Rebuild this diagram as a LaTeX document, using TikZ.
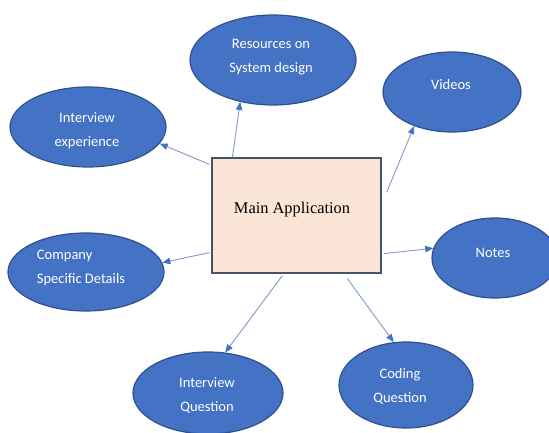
\documentclass[tikz,border=0pt]{standalone}
\usepackage{fontspec}
\setmainfont{Liberation Serif}
\newfontfamily\calib{Carlito}
\usetikzlibrary{shapes.geometric,arrows.meta,calc}
\definecolor{bubfill}{HTML}{4472C4}
\definecolor{bubedge}{HTML}{2F528F}
\definecolor{boxfill}{HTML}{FBE5D6}
\definecolor{boxedge}{HTML}{44546A}
\definecolor{linecol}{HTML}{7F9AC9}
\definecolor{tipcol}{HTML}{4472C4}
\begin{document}
\begin{tikzpicture}[x=1pt,y=1pt,
 bub/.style={ellipse,draw=bubedge,fill=bubfill,line width=1.2pt,inner sep=0pt},
 lbl/.style={font=\calib\fontsize{14.5}{24}\selectfont,text=white,align=center,inner sep=0pt},
 con/.style={draw=linecol,line width=0.9pt,-{Triangle[length=8pt,width=6.5pt,color=tipcol]}}]
\useasboundingbox (0,0) rectangle (549,433);
\fill[white] (0,0) rectangle (549,433);

% ellipses
\node[bub,minimum width=166pt,minimum height=90pt] (res) at (273,373) {};
\node[bub,minimum width=156pt,minimum height=80pt] (intexp) at (88,306) {};
\node[bub,minimum width=138pt,minimum height=80pt] (videos) at (452,341) {};
\node[bub,minimum width=156pt,minimum height=78pt] (company) at (86,161) {};
\node[bub,minimum width=126pt,minimum height=80pt] (notes) at (495,175) {};
\node[bub,minimum width=150pt,minimum height=82pt] (intq) at (208,40) {};
\node[bub,minimum width=134pt,minimum height=86pt] (coding) at (406,48) {};

% labels
\node[lbl] (resl) at (271,376) {Resources on\\System design};
\node[lbl] (intexpl) at (87,302) {Interview\\experience};
\node[lbl] (videosl) at (451,348) {Videos};
\node[lbl,align=left] (companyl) at (81,165) {Company\\Specific Details};
\node[lbl] (notesl) at (493,180) {Notes};
\node[lbl] (intql) at (207,38) {Interview\\Question};
\node[lbl] (codingl) at (400,47) {Coding\\Question};

% main box
\node[draw=boxedge,fill=boxfill,line width=1.3pt,minimum width=169pt,minimum height=115pt,inner sep=0pt] (main) at (296.5,217.5) {};
\node[font=\fontsize{16.4}{20}\selectfont,inner sep=0pt] (mainl) at (292,223) {Main Application};

% start points on the box
\coordinate (sR) at ($(main.north west)+(21,0)$);
\coordinate (sI) at ($(main.north west)+(-2,-7)$);
\coordinate (sV) at ($(main.north east)+(5,-35)$);
\coordinate (sC) at ($(main.south west)+(-2,21)$);
\coordinate (sN) at ($(main.south east)+(2,20)$);
\coordinate (sQ) at ($(main.south west)+(71,-2)$);
\coordinate (sK) at ($(main.south west)+(136,-5)$);

% connectors
\draw[con] (sR) -- (res.-128);
\draw[con] (sI) -- (intexp.-13);
\draw[con] (sV) -- (videos.-138);
\draw[con] (sC) -- (company.7);
\draw[con] (sN) -- (notes.171);
\draw[con] (sQ) -- (intq.67);
\draw[con] (sK) -- (coding.106);
\end{tikzpicture}
\end{document}
